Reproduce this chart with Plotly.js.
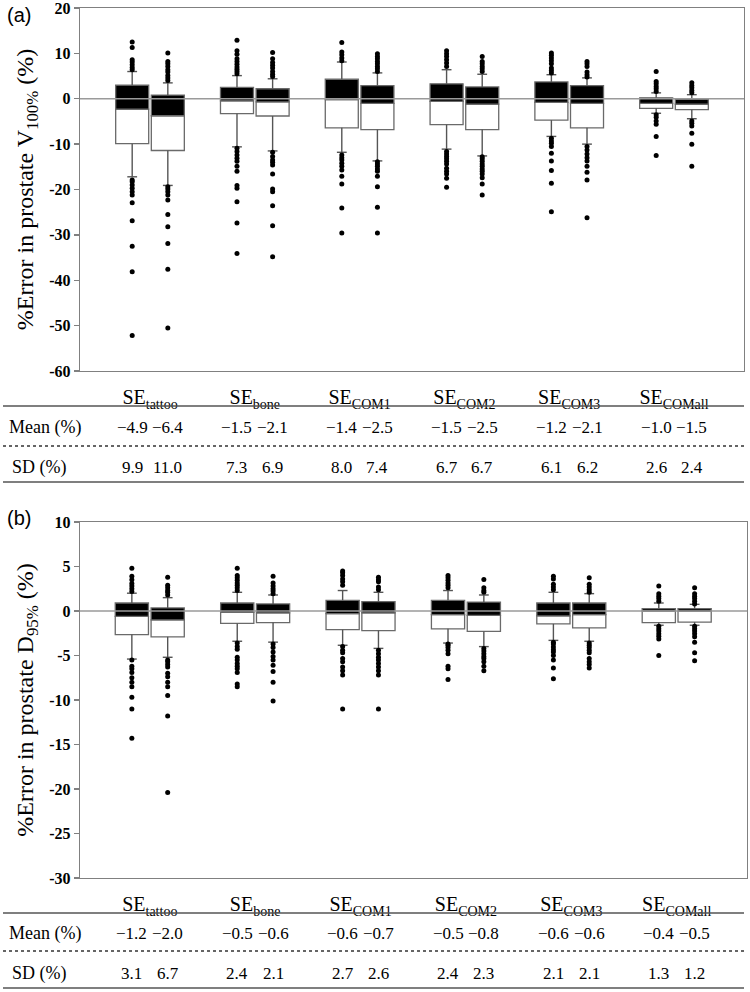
<!DOCTYPE html>
<html>
<head>
<meta charset="utf-8">
<script src="https://cdn.plot.ly/plotly-3.0.1.min.js"></script>
<style>
  html, body { margin: 0; padding: 0; background: #fff; }
  #chart { width: 750px; height: 992px; }
</style>
</head>
<body>
<div id="chart"></div>
<script>
(() => {
  "use strict";

  const cats = ["SE<sub>tattoo</sub>", "SE<sub>bone</sub>", "SE<sub>COM1</sub>",
                "SE<sub>COM2</sub>", "SE<sub>COM3</sub>", "SE<sub>COMall</sub>"];

  // (a) %Error in prostate V100% -- left box (A) and right box (B) of each pair
  const vA_q1  = [-9.9, -3.3, -6.4, -5.7, -4.7, -2.1];
  const vA_med = [-2.3, -0.45, -0.2, -0.6, -0.8, -1.0];
  const vA_q3  = [3.0, 2.5, 4.3, 3.3, 3.7, 0.2];
  const vA_lo  = [-17.2, -10.6, -11.8, -11.1, -8.3, -3.2];
  const vA_hi  = [6.0, 5.1, 8.1, 6.4, 5.3, 1.3];
  const vA_out = [
    [12.5, 11.3, 8.6, 8.1, 7.5, 6.9, 6.4, -17.9, -18.3, -19.0, -19.7, -20.5, -21.2, -22.9, -26.9, -32.5, -38.1, -52.2],
    [12.9, 10.6, 9.8, 8.8, 8.2, 7.6, 7.0, 6.5, 6.0, 5.5, -10.9, -11.6, -12.4, -13.1, -13.8, -14.9, -16.0, -19.1, -19.7, -22.7, -27.4, -34.1],
    [12.4, 10.3, 9.7, 9.0, 8.4, -12.4, -13.0, -13.5, -14.2, -14.9, -15.7, -17.1, -18.8, -24.1, -29.6],
    [10.6, 9.9, 9.3, 8.6, 7.9, 7.1, -11.6, -12.2, -12.7, -13.2, -13.8, -14.4, -15.3, -16.0, -16.6, -17.5, -19.5],
    [10.1, 9.6, 9.0, 8.4, 7.7, 6.8, 6.2, 5.7, -8.7, -9.3, -9.8, -10.5, -12.0, -13.7, -15.8, -18.6, -24.9],
    [6.0, 3.8, 3.3, 2.7, 2.2, 1.6, -3.5, -4.1, -4.9, -5.6, -8.3, -12.5]
  ];
  const vB_q1  = [-11.4, -3.8, -6.8, -6.8, -6.4, -2.4];
  const vB_med = [-3.75, -0.7, -1.0, -1.2, -1.0, -1.2];
  const vB_q3  = [0.8, 2.2, 2.9, 2.6, 2.9, -0.1];
  const vB_lo  = [-19.1, -11.5, -13.7, -12.6, -10.0, -4.4];
  const vB_hi  = [3.5, 4.4, 5.7, 5.4, 4.6, 0.9];
  const vB_out = [
    [10.1, 8.2, 7.7, 7.1, 6.4, 5.9, 5.1, 4.6, 4.0, -19.4, -19.9, -20.5, -21.2, -22.3, -25.5, -28.2, -31.9, -37.6, -50.5],
    [10.2, 8.8, 8.0, 7.4, 6.8, 6.0, 5.4, 4.9, -11.8, -12.7, -13.5, -14.0, -14.6, -16.6, -19.9, -20.5, -23.6, -28.0, -34.8],
    [9.9, 9.3, 8.8, 8.2, 7.7, 7.1, 6.6, 6.0, -13.9, -14.4, -14.9, -15.5, -16.0, -17.1, -19.4, -23.9, -29.6],
    [9.3, 8.2, 7.7, 7.1, 6.6, 6.0, -12.8, -13.2, -13.8, -14.4, -14.9, -15.5, -16.0, -16.6, -17.4, -18.8, -21.2],
    [8.2, 7.7, 7.1, 5.9, 5.3, 4.8, -10.5, -11.3, -12.2, -13.0, -13.7, -14.9, -16.2, -17.9, -26.2],
    [3.5, 2.9, 2.4, 1.8, 1.3, -4.9, -5.4, -6.0, -7.6, -10.0, -14.9]
  ];

  // (b) %Error in prostate D95%
  const dA_q1  = [-2.65, -1.4, -2.1, -2.0, -1.45, -1.3];
  const dA_med = [-0.6, -0.15, -0.3, -0.4, -0.55, 0.0];
  const dA_q3  = [0.9, 0.9, 1.2, 1.2, 0.9, 0.27];
  const dA_lo  = [-5.4, -3.4, -3.85, -3.6, -3.3, -1.6];
  const dA_hi  = [2.0, 2.1, 2.3, 2.3, 2.1, 0.9];
  const dA_out = [
    [4.8, 3.9, 3.5, 3.1, 2.8, 2.5, 2.2, -5.5, -6.2, -6.5, -6.9, -7.5, -8.0, -8.5, -9.7, -11.0, -14.3],
    [4.8, 4.0, 3.75, 3.45, 3.15, 2.9, 2.6, 2.3, -3.6, -4.0, -4.3, -5.2, -5.5, -5.9, -6.2, -6.5, -6.9, -8.2, -8.5],
    [4.5, 4.3, 4.0, 3.6, 3.3, 2.9, -4.0, -4.4, -4.7, -5.35, -5.7, -6.3, -6.7, -7.2, -11.0],
    [4.0, 3.75, 3.45, 3.15, 2.9, 2.6, -3.7, -3.85, -4.1, -4.4, -4.8, -6.2, -6.5, -7.7],
    [3.9, 3.6, 3.0, 2.7, 2.4, -3.5, -3.7, -4.05, -4.35, -4.6, -5.0, -5.5, -6.4, -7.6],
    [2.8, 1.95, 1.65, 1.4, 1.1, -1.7, -2.0, -2.25, -2.55, -2.85, -3.15, -5.0]
  ];
  const dB_q1  = [-2.9, -1.3, -2.2, -2.3, -1.9, -1.25];
  const dB_med = [-1.0, -0.2, -0.2, -0.5, -0.4, -0.05];
  const dB_q3  = [0.35, 0.8, 1.05, 1.0, 0.9, 0.27];
  const dB_lo  = [-5.2, -3.5, -4.2, -4.0, -3.4, -1.6];
  const dB_hi  = [1.5, 1.8, 2.1, 1.8, 1.95, 0.75];
  const dB_out = [
    [3.8, 2.9, 2.6, 2.3, 2.1, 1.8, -5.5, -5.7, -6.0, -6.3, -7.0, -7.4, -8.0, -8.5, -9.5, -11.8, -20.4],
    [3.9, 3.15, 2.8, 2.5, 2.25, 1.95, -3.7, -4.1, -4.6, -5.1, -5.5, -6.1, -6.8, -8.0, -10.1],
    [3.8, 3.5, 3.3, 2.7, 2.4, -4.4, -4.8, -5.2, -5.5, -5.9, -6.3, -6.7, -7.2, -11.0],
    [3.55, 2.6, 2.3, 2.1, -4.2, -4.5, -4.8, -5.1, -5.35, -5.7, -6.2, -6.7],
    [3.75, 3.0, 2.7, 2.4, 2.1, -3.6, -3.85, -4.1, -4.4, -4.7, -5.35, -5.7, -6.0, -6.4],
    [2.6, 1.95, 1.65, 1.4, 1.1, 0.8, -1.7, -2.0, -2.25, -2.55, -2.9, -3.5, -4.7, -5.6]
  ];

  // tables under the panels
  const meanVA = [-4.9, -1.5, -1.4, -1.5, -1.2, -1.0];
  const meanVB = [-6.4, -2.1, -2.5, -2.5, -2.1, -1.5];
  const sdVA   = [9.9, 7.3, 8.0, 6.7, 6.1, 2.6];
  const sdVB   = [11.0, 6.9, 7.4, 6.7, 6.2, 2.4];
  const meanDA = [-1.2, -0.5, -0.6, -0.5, -0.6, -0.4];
  const meanDB = [-2.0, -0.6, -0.7, -0.8, -0.6, -0.5];
  const sdDA   = [3.1, 2.4, 2.7, 2.4, 2.1, 1.3];
  const sdDB   = [6.7, 2.1, 2.6, 2.3, 2.1, 1.2];

  const vTicks = [20, 10, 0, -10, -20, -30, -40, -50, -60];
  const dTicks = [10, 5, 0, -5, -10, -15, -20, -25, -30];

  // page geometry (pixels -> paper)
  const W = 750, H = 992, ML = 80, MR = 3, MT = 8, MB = 114;
  const PW = W - ML - MR, PH = H - MT - MB;
  const px = x => (x - ML) / PW;
  const py = y => (H - MB - y) / PH;

  const off = [-0.17, 0.17];
  const boxW = 0.315;
  const SERIF = "Liberation Serif";
  const SANS = "Liberation Sans";
  const grey = "#808080";
  const serifFont = (size) => ({ family: SERIF, size: size, color: "#000" });
  const pad = "\u00a0\u00a0\u00a0\u00a0\u00a0";  // nudges the rotated titles down a little

  function series(q1, med, q3, lo, hi, out, s, xa, ya) {
    const common = { xaxis: xa, yaxis: ya, showlegend: false, hoverinfo: "skip" };
    const x = q1.map((_, i) => i + off[s]);
    const edge = { color: "#6a6a6a", width: 1.3 };
    const white = Object.assign({
      type: "bar", x: x, base: q1, y: q1.map((v, i) => med[i] - v), width: boxW,
      marker: { color: "#ffffff", line: edge }
    }, common);
    const black = Object.assign({
      type: "bar", x: x, base: med, y: med.map((v, i) => q3[i] - v), width: boxW,
      marker: { color: "#000000", line: edge }
    }, common);
    const wx = [], wy = [];
    x.forEach((xi, i) => {
      wx.push(xi, xi, null, xi, xi, null);
      wy.push(q3[i], hi[i], null, q1[i], lo[i], null);
    });
    const whisk = Object.assign({
      type: "scatter", mode: "lines", x: wx, y: wy,
      line: { color: "#555", width: 1.4 }
    }, common);
    const caps = Object.assign({
      type: "scatter", mode: "markers", x: x.concat(x), y: hi.concat(lo),
      marker: { symbol: "line-ew", size: 7, line: { color: "#555", width: 1.4 } }
    }, common);
    const ox = [], oy = [];
    out.forEach((arr, i) => arr.forEach(v => { ox.push(x[i]); oy.push(v); }));
    const pts = Object.assign({
      type: "scatter", mode: "markers", x: ox, y: oy,
      marker: { color: "#000", size: 5 }
    }, common);
    return [white, black, whisk, caps, pts];
  }

  const data = [].concat(
    series(vA_q1, vA_med, vA_q3, vA_lo, vA_hi, vA_out, 0, "x", "y"),
    series(vB_q1, vB_med, vB_q3, vB_lo, vB_hi, vB_out, 1, "x", "y"),
    series(dA_q1, dA_med, dA_q3, dA_lo, dA_hi, dA_out, 0, "x2", "y2"),
    series(dB_q1, dB_med, dB_q3, dB_lo, dB_hi, dB_out, 1, "x2", "y2")
  );

  function xAxis(domain, range, anchor) {
    return {
      domain: domain, range: range, anchor: anchor,
      tickvals: cats.map((_, i) => i), ticktext: cats,
      ticks: "", ticklabelstandoff: 8,
      tickfont: serifFont(20),
      showline: true, mirror: true, linecolor: grey, linewidth: 1.3,
      showgrid: false, zeroline: false, fixedrange: true
    };
  }
  function yAxis(domain, ticks, title, anchor) {
    return {
      domain: domain, anchor: anchor,
      range: [ticks[ticks.length - 1], ticks[0]],
      tickvals: ticks, ticktext: ticks.map(v => "<b>" + v + "</b>"),
      ticklabeloverflow: "allow",
      ticks: "outside", ticklen: 5, tickcolor: grey, tickwidth: 1.3,
      tickfont: serifFont(16),
      showline: true, mirror: true, linecolor: grey, linewidth: 1.3,
      showgrid: false, zeroline: false,
      title: { text: title + pad, font: serifFont(24), standoff: 8 }
    };
  }

  const fmt = v => v.toFixed(1).replace("-", "\u2212");
  const annotations = [];
  function table(xref, rowMean, rowSd, meanA, meanB, sdA, sdB) {
    annotations.push({ xref: "paper", yref: "paper", x: px(7), y: py(rowMean), xanchor: "left",
      yanchor: "middle", text: "Mean (%)", showarrow: false, font: serifFont(18) });
    annotations.push({ xref: "paper", yref: "paper", x: px(10), y: py(rowSd), xanchor: "left",
      yanchor: "middle", text: "SD (%)", showarrow: false, font: serifFont(18) });
    [[meanA, meanB, rowMean], [sdA, sdB, rowSd]].forEach(([a, b, row]) => {
      [a, b].forEach((vals, s) => vals.forEach((v, i) => {
        annotations.push({ xref: xref, yref: "paper", x: i + off[s], y: py(row),
          xanchor: "center", yanchor: "middle", text: fmt(v), showarrow: false, font: serifFont(17) });
      }));
    });
  }
  table("x", 427, 467, meanVA, meanVB, sdVA, sdVB);
  table("x2", 933, 973, meanDA, meanDB, sdDA, sdDB);

  annotations.push({ xref: "paper", yref: "paper", x: px(5), y: py(15), xanchor: "left", yanchor: "middle",
    text: "(a)", showarrow: false, font: { family: SANS, size: 20, color: "#000" } });
  annotations.push({ xref: "paper", yref: "paper", x: px(5), y: py(518), xanchor: "left", yanchor: "middle",
    text: "(b)", showarrow: false, font: { family: SANS, size: 20, color: "#000" } });

  const hline = (ypx, dash, color) => ({
    type: "line", xref: "paper", yref: "paper", x0: px(3), x1: px(744), y0: py(ypx), y1: py(ypx),
    line: { color: color, width: 1.3, dash: dash }
  });
  const shapes = [
    { type: "line", xref: "x domain", yref: "y", x0: 0, x1: 1, y0: 0, y1: 0, layer: "above",
      line: { color: "#9a9a9a", width: 1.5 } },
    { type: "line", xref: "x2 domain", yref: "y2", x0: 0, x1: 1, y0: 0, y1: 0, layer: "above",
      line: { color: "#9a9a9a", width: 1.5 } },
    hline(406, "solid", "#555"), hline(446, "dot", "#333"), hline(482, "solid", "#555"),
    hline(913, "solid", "#555"), hline(951, "dot", "#333"), hline(988, "solid", "#555")
  ];

  const layout = {
    width: W, height: H,
    margin: { l: ML, r: MR, t: MT, b: MB },
    font: { family: SERIF, size: 17, color: "#000" },
    paper_bgcolor: "#fff", plot_bgcolor: "#fff",
    barmode: "overlay", showlegend: false,
    xaxis: xAxis([0, px(744)], [-0.668, 5.668], "y"),
    yaxis: yAxis([py(371), 1], vTicks, "%Error in prostate V<sub>100%</sub> (%)", "x"),
    xaxis2: xAxis([0, 1], [-0.662, 5.667], "y2"),
    yaxis2: yAxis([0, py(522)], dTicks, "%Error in prostate D<sub>95%</sub> (%)", "x2"),
    shapes: shapes,
    annotations: annotations
  };

  Plotly.newPlot("chart", data, layout, { displayModeBar: false, staticPlot: true });
})();
</script>
</body>
</html>
